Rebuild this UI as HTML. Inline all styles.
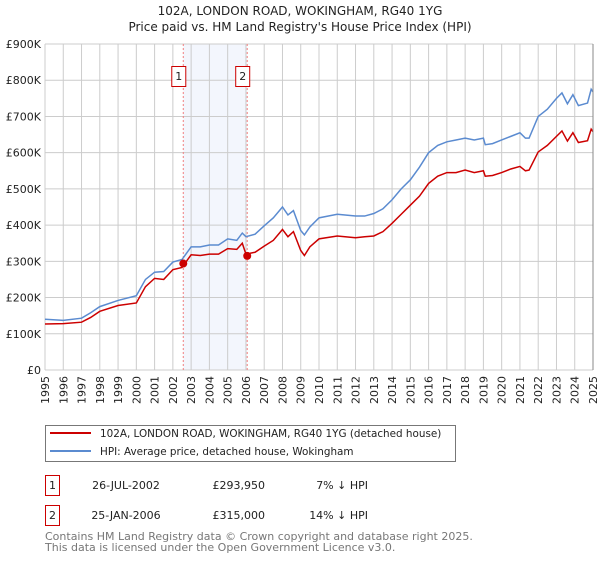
<!DOCTYPE html>
<html><head><meta charset="utf-8"><style>
body{margin:0;background:#fff;font-family:"DejaVu Sans","Liberation Sans",sans-serif;}
svg text{font-family:"DejaVu Sans","Liberation Sans",sans-serif;}
</style></head><body>
<svg id="chart" width="600" height="560" viewBox="0 0 600 560">
<text x="300" y="15" text-anchor="middle" font-size="12" fill="#222">102A, LONDON ROAD, WOKINGHAM, RG40 1YG</text>
<text x="300" y="31" text-anchor="middle" font-size="12" fill="#222">Price paid vs. HM Land Registry's House Price Index (HPI)</text>
<g id="grid"></g><g id="marks"></g><g id="axes"></g>
<g>
<rect x="45.5" y="425.5" width="410" height="36" fill="#fff" stroke="#777"/>
<line x1="50" y1="433" x2="91" y2="433" stroke="#cc0000" stroke-width="2"/>
<text x="100" y="437" font-size="10.4" fill="#222">102A, LONDON ROAD, WOKINGHAM, RG40 1YG (detached house)</text>
<line x1="50" y1="451" x2="91" y2="451" stroke="#5b8bd0" stroke-width="2"/>
<text x="100" y="455" font-size="10.4" fill="#222">HPI: Average price, detached house, Wokingham</text>
</g>
<g font-size="11" fill="#222">
<rect x="45.5" y="475.5" width="14" height="20" fill="#fff" stroke="#cc0000"/>
<text x="52.5" y="489" text-anchor="middle">1</text>
<text x="126" y="489" text-anchor="middle">26-JUL-2002</text>
<text x="265" y="489" text-anchor="end">£293,950</text>
<text x="368" y="489" text-anchor="end">7% ↓ HPI</text>
<rect x="45.5" y="505.5" width="14" height="20" fill="#fff" stroke="#cc0000"/>
<text x="52.5" y="519" text-anchor="middle">2</text>
<text x="126" y="519" text-anchor="middle">25-JAN-2006</text>
<text x="265" y="519" text-anchor="end">£315,000</text>
<text x="368" y="519" text-anchor="end">14% ↓ HPI</text>
</g>
<text x="45" y="540" font-size="11" fill="#777">Contains HM Land Registry data © Crown copyright and database right 2025.</text>
<text x="45" y="551" font-size="11" fill="#777">This data is licensed under the Open Government Licence v3.0.</text>
</svg>
<script>
const hpiYears=[1995,1996,1997,1997.5,1998,1999,2000,2000.5,2001,2001.5,2002,2002.5,2003,2003.5,2004,2004.5,2005,2005.5,2005.8,2006,2006.5,2007,2007.5,2008,2008.3,2008.6,2009,2009.2,2009.5,2010,2011,2012,2012.5,2013,2013.5,2014,2014.5,2015,2015.5,2016,2016.5,2017,2017.5,2018,2018.5,2019,2019.1,2019.5,2020,2020.5,2021,2021.3,2021.5,2022,2022.5,2023,2023.3,2023.6,2023.9,2024.2,2024.7,2024.9,2025];
const hpiValues=[140,137,143,158,175,192,205,250,270,272,298,305,340,340,345,345,362,358,378,368,375,398,420,450,428,440,385,373,395,420,430,425,425,432,445,470,500,525,560,600,620,630,635,640,635,640,622,625,635,645,655,640,640,700,720,750,765,735,760,730,737,775,768];
const priceValues=[127,128,132,145,162,178,185,230,253,250,277,283,318,316,320,320,335,333,350,320,325,342,358,388,368,382,330,316,340,362,370,365,368,370,382,405,430,455,480,515,535,545,545,552,545,550,535,537,545,555,562,550,552,602,620,645,660,632,655,628,633,665,658];
const saleYears=[2002.57,2006.07];
const saleValues=[293.95,315];
const saleLabels=["1","2"];
const yTicks=[0,100,200,300,400,500,600,700,800,900];
const yTickLabels=["£0","£100K","£200K","£300K","£400K","£500K","£600K","£700K","£800K","£900K"];
const xTicks=[1995,1996,1997,1998,1999,2000,2001,2002,2003,2004,2005,2006,2007,2008,2009,2010,2011,2012,2013,2014,2015,2016,2017,2018,2019,2020,2021,2022,2023,2024,2025];

const X0=45,X1=593,Y0=370,Y1=44;
const x=v=>X0+(v-1995)/30*(X1-X0);
const y=v=>Y0-v/900*(Y0-Y1);
const NS="http://www.w3.org/2000/svg";
function mk(tag,attrs,parent){const e=document.createElementNS(NS,tag);for(const k in attrs)e.setAttribute(k,attrs[k]);parent.appendChild(e);return e;}
const grid=document.getElementById('grid'),marks=document.getElementById('marks'),axes=document.getElementById('axes');
const band=mk('rect',{x:x(saleYears[0]),y:Y1,width:x(saleYears[1])-x(saleYears[0]),height:Y0-Y1,fill:'#f3f6fd'},grid);


yTicks.forEach((t,i)=>{
 const l=mk('line',{x1:X0,x2:X1,y1:y(t),y2:y(t),stroke:'#cccccc'},grid);
 
 
 const tx=mk('text',{x:X0-4,y:y(t)+4,'text-anchor':'end','font-size':11,fill:'#222'},axes);
 tx.textContent=yTickLabels[i];
 
 
});
xTicks.forEach(t=>{
 const l=mk('line',{x1:x(t),x2:x(t),y1:Y1,y2:Y0,stroke:'#cccccc'},grid);
 
 
 const tx=mk('text',{x:0,y:0,'text-anchor':'end','font-size':11,fill:'#222',transform:`translate(${x(t)+4},376) rotate(-90)`},axes);
 tx.textContent=t;
 
 
});
saleYears.forEach((s,i)=>{
 const l=mk('line',{x1:x(s),x2:x(s),y1:Y1,y2:Y0,stroke:'#f08080','stroke-dasharray':'2,2'},grid);
 
 
});
const hp=mk('polyline',{points:hpiYears.map((t,i)=>x(t)+','+y(hpiValues[i])).join(' '),fill:'none',stroke:'#5b8bd0','stroke-width':1.5},marks);


const pp=mk('polyline',{points:hpiYears.map((t,i)=>x(t)+','+y(priceValues[i])).join(' '),fill:'none',stroke:'#cc0000','stroke-width':1.5},marks);


saleYears.forEach((s,i)=>{
 const c=mk('circle',{cx:x(s),cy:y(saleValues[i]),r:4,fill:'#cc0000'},marks);
 
 
 const r=mk('rect',{x:x(s)-11.5,y:66.5,width:14,height:20,fill:'#fff',stroke:'#cc0000'},marks);
 
 
 const tx=mk('text',{x:x(s)-4.5,y:80,'text-anchor':'middle','font-size':11,fill:'#222'},marks);
 tx.textContent=saleLabels[i];
 
 
});
const ax=mk('line',{x1:X1,x2:X1,y1:Y1,y2:Y0,stroke:'#888'},axes);


</script>
</body></html>
